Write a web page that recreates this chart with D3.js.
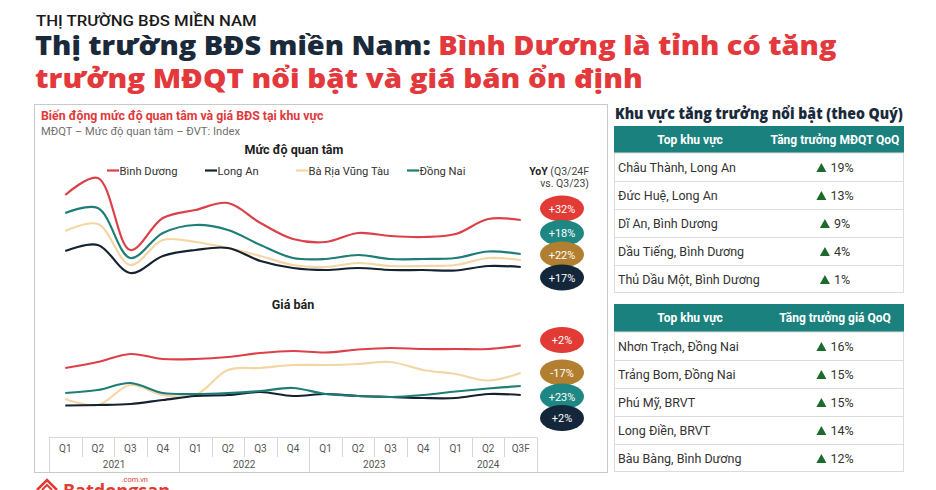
<!DOCTYPE html>
<html><head><meta charset="utf-8">
<script src="https://cdn.jsdelivr.net/npm/d3@7"></script>
<style>
body{margin:0;background:#fff}
svg{display:block}
text{font-family:Roboto,"Noto Sans",sans-serif}
</style>
</head><body>
<svg id="c" width="936" height="490"></svg>
<script>
// ---------------- DATA ----------------
const quarters = ["Q1","Q2","Q3","Q4","Q1","Q2","Q3","Q4","Q1","Q2","Q3","Q4","Q1","Q2","Q3F"];
const yearLabels = ["2021","2022","2023","2024"];
const yearSpans = [4,4,4,3];
const seriesNames = ["Bình Dương","Long An","Bà Rịa Vũng Tàu","Đồng Nai"];

// Mức độ quan tâm (index)
const interestBinhDuong = [95,112,40,72,80,87,67,51,48,57,54,53,56,71,70];
const interestLongAn    = [39,45,17,34,40,42,29,22,20,22,20,20,19.5,24,23];
const interestBRVT      = [59,66,25,50,48,42,34,25,23,27,24,24,25,32,30];
const interestDongNai   = [77,82,32,57,65,60,45,32,31,35,31,31,32,38.5,36];

// Giá bán (index)
const priceBinhDuong = [52,58,66,61,61,63,67,69,67.5,70.5,72,71,71,71,74.5];
const priceLongAn    = [14.5,15,16,20,24,25,28,24,26,24,23,22,22,26,25];
const priceBRVT      = [21,15,35,25,25,50,52,55,55,56,58,50,46,39.5,47];
const priceDongNai   = [27,30,37,27,26,27,29,32,26,24,23,25,28.5,31.5,34];

// YoY labels (series order: Bình Dương, Long An, BRVT, Đồng Nai)
const yoyInterest = ["+32%","+17%","+22%","+18%"];
const yoyPrice    = ["+2%","+2%","-17%","+23%"];

// Tables
const mdqtRegions = ["Châu Thành, Long An","Đức Huệ, Long An","Dĩ An, Bình Dương","Dầu Tiếng, Bình Dương","Thủ Dầu Một, Bình Dương"];
const mdqtGrowth  = ["19%","13%","9%","4%","1%"];
const priceRegions = ["Nhơn Trạch, Đồng Nai","Trảng Bom, Đồng Nai","Phú Mỹ, BRVT","Long Điền, BRVT","Bàu Bàng, Bình Dương"];
const priceGrowth  = ["16%","15%","15%","14%","12%"];

// ---------------- STYLE / LAYOUT ----------------
const lineColors  = ["#dc4048","#15222f","#f4d6a4","#1f7d78"];
const badgeColors = ["#e23b35","#13263a","#b27e2f","#1e8784"];
const NAVY = "#1b2a3b", RED = "#e3393c", TEAL = "#1b817e";

const svg = d3.select("#c");
svg.append("rect").attr("width",936).attr("height",490).attr("fill","#fff");

function fitX(sel, x, y, target){
  const w = sel.node().getComputedTextLength();
  sel.attr("x",0).attr("y",0).attr("transform",`translate(${x},${y}) scale(${target/w},1)`);
}

// ---------- Header ----------
const h0 = svg.append("text").attr("font-family","Roboto").attr("font-weight",500)
  .attr("font-size",15).attr("fill","#1a1a1a").text("THỊ TRƯỜNG BĐS MIỀN NAM");
fitX(h0,36,25.5,221);

const t1 = svg.append("text").attr("font-weight",800).attr("font-size",26).style("font-family","'Open Sans',sans-serif");
t1.append("tspan").attr("fill",NAVY).text("Thị trường BĐS miền Nam: ");
t1.append("tspan").attr("fill",RED).text("Bình Dương là tỉnh có tăng");
fitX(t1,35,55,802);
const t2 = svg.append("text").attr("font-weight",800).attr("font-size",26).style("font-family","'Open Sans',sans-serif")
  .attr("fill",RED).text("trưởng MĐQT nổi bật và giá bán ổn định");
fitX(t2,35,88,608);

// ---------- Left panel ----------
svg.append("rect").attr("x",34.5).attr("y",104.5).attr("width",573).attr("height",368)
  .attr("fill","none").attr("stroke","#c9c9c9");

svg.append("text").attr("x",41).attr("y",120).attr("font-size",12.3).attr("font-weight",700)
  .attr("fill","#e0393c").text("Biến động mức độ quan tâm và giá BĐS tại khu vực");
svg.append("text").attr("x",41).attr("y",134.5).attr("font-size",11.2).attr("fill","#707070")
  .text("MĐQT – Mức độ quan tâm – ĐVT: Index");

const xBand = d3.scaleBand().domain(d3.range(quarters.length)).range([49,537]).padding(0);
const bw = xBand.bandwidth();
const cx = i => xBand(i) + bw/2;
const yTop = d3.scaleLinear().domain([0,120]).range([290,170]);
const yBot = d3.scaleLinear().domain([0,100]).range([420,320]);

svg.append("text").attr("x",294).attr("y",153.5).attr("text-anchor","middle").attr("font-size",12.5)
  .attr("font-weight",700).attr("fill","#222").text("Mức độ quan tâm");
svg.append("text").attr("x",293).attr("y",309).attr("text-anchor","middle").attr("font-size",12.5)
  .attr("font-weight",700).attr("fill","#222").text("Giá bán");

// Legend
const legendX = [107,205,296,407];
seriesNames.forEach((n,i)=>{
  svg.append("line").attr("x1",legendX[i]).attr("x2",legendX[i]+12).attr("y1",170.5).attr("y2",170.5)
    .attr("stroke",lineColors[i]).attr("stroke-width",2.2);
  svg.append("text").attr("x",legendX[i]+12.5).attr("y",174.5).attr("font-size",11.2).attr("fill","#333").text(n);
});

// YoY heading
const yoy = svg.append("text").attr("x",589).attr("y",175).attr("text-anchor","end").attr("font-size",10.5).attr("fill","#444");
yoy.append("tspan").attr("font-weight",700).attr("fill","#222").text("YoY");
yoy.append("tspan").text(" (Q3/24F");
svg.append("text").attr("x",589).attr("y",187).attr("text-anchor","end").attr("font-size",10.5).attr("fill","#444").text("vs. Q3/23)");

// Lines
const lineTop = d3.line().x((d,i)=>cx(i)).y(d=>yTop(d)).curve(d3.curveCatmullRom.alpha(0.5));
const lineBot = d3.line().x((d,i)=>cx(i)).y(d=>yBot(d)).curve(d3.curveCatmullRom.alpha(0.5));
const topSeries = [interestBinhDuong, interestLongAn, interestBRVT, interestDongNai];
const botSeries = [priceBinhDuong, priceLongAn, priceBRVT, priceDongNai];
[2,1,3,0].forEach(i=>{
  svg.append("path").attr("d",lineTop(topSeries[i])).attr("fill","none").attr("stroke",lineColors[i]).attr("stroke-width",2.2);
});
[2,1,3,0].forEach(i=>{
  svg.append("path").attr("d",lineBot(botSeries[i])).attr("fill","none").attr("stroke",lineColors[i]).attr("stroke-width",2.2);
});

// Badges
const badgeX = 562;
const topBadges = [{s:0,y:208.5},{s:3,y:233},{s:2,y:254.5},{s:1,y:277.5}];
const botBadges = [{s:0,y:340},{s:2,y:372.5},{s:3,y:396.5},{s:1,y:418}];
function badges(list, labels){
  list.forEach(b=>{
    svg.append("ellipse").attr("cx",badgeX).attr("cy",b.y).attr("rx",22).attr("ry",13).attr("fill",badgeColors[b.s]);
    svg.append("text").attr("x",badgeX).attr("y",b.y+4).attr("text-anchor","middle").attr("font-size",11)
      .attr("fill","#fff").text(labels[b.s]);
  });
}
badges(topBadges, yoyInterest);
badges(botBadges, yoyPrice);

// Axis
const axisG = svg.append("g").attr("transform","translate(0,445)")
  .call(d3.axisBottom(xBand).tickSize(0).tickPadding(0).tickFormat(i=>quarters[i]));
axisG.select(".domain").remove();
axisG.selectAll("text").attr("font-size",10).attr("fill","#555").attr("font-family","Roboto");
svg.append("line").attr("x1",49).attr("x2",537).attr("y1",437.5).attr("y2",437.5).attr("stroke","#d6d6d6");
const yearBounds = [0];
yearSpans.forEach(s=>yearBounds.push(yearBounds[yearBounds.length-1]+s));
d3.range(quarters.length+1).forEach(k=>{
  const x = Math.round((k<quarters.length? xBand(k) : xBand(quarters.length-1)+bw))+0.5;
  const full = yearBounds.includes(k);
  svg.append("line").attr("x1",x).attr("x2",x).attr("y1",437.5).attr("y2",full?472:457)
    .attr("stroke","#d6d6d6");
});
yearLabels.forEach((y,j)=>{
  const a = yearBounds[j], b = yearBounds[j+1];
  const xm = (xBand(a) + xBand(b-1)+bw)/2;
  svg.append("text").attr("x",xm).attr("y",468).attr("text-anchor","middle").attr("font-size",10)
    .attr("fill","#555").text(y);
});

// ---------- Right tables ----------
const rt = svg.append("text").attr("font-weight",800).attr("font-size",15).style("font-family","'Open Sans',sans-serif")
  .attr("fill",NAVY).text("Khu vực tăng trưởng nổi bật (theo Quý)");
fitX(rt,615,118.5,288);

function table(y0, hh, rh, headers, names, vals){
  const x0 = 614, x1 = 904, c1 = 690, c2 = 835;
  svg.append("rect").attr("x",x0).attr("y",y0).attr("width",x1-x0).attr("height",hh).attr("fill",TEAL);
  svg.append("text").attr("x",c1).attr("y",y0+hh/2+4.2).attr("text-anchor","middle").attr("font-size",12)
    .attr("font-weight",700).attr("fill","#fff").text(headers[0]);
  svg.append("text").attr("x",c2).attr("y",y0+hh/2+4.2).attr("text-anchor","middle").attr("font-size",12)
    .attr("font-weight",700).attr("fill","#fff").text(headers[1]);
  const yb = y0+hh;
  svg.append("rect").attr("x",x0+0.5).attr("y",yb).attr("width",x1-x0-1).attr("height",rh*names.length-0.5)
    .attr("fill","none").attr("stroke","#dcdcdc");
  names.forEach((n,i)=>{
    const ry = yb + rh*i;
    if(i>0) svg.append("line").attr("x1",x0).attr("x2",x1).attr("y1",ry+0.5).attr("y2",ry+0.5).attr("stroke","#dcdcdc");
    svg.append("text").attr("x",618).attr("y",ry+rh/2+4.5).attr("font-size",12.5).attr("fill","#333").text(n);
    const tx = svg.append("text").attr("y",ry+rh/2+5).attr("font-size",12.5).attr("fill","#333").text(vals[i]);
    const tw = tx.node().getComputedTextLength();
    const start = c2 - (tw+14)/2;
    tx.attr("x",start+14);
    const tcx = start+5, tcy = ry+rh/2+0.5;
    svg.append("path").attr("d",`M${tcx-5},${tcy+4.5}L${tcx+5},${tcy+4.5}L${tcx},${tcy-4.5}Z`).attr("fill","#1d6b2c");
  });
}
table(126, 27, 28, ["Top khu vực","Tăng trưởng MĐQT QoQ"], mdqtRegions, mdqtGrowth);
table(304, 28, 28, ["Top khu vực","Tăng trưởng giá QoQ"], priceRegions, priceGrowth);

// ---------- Logo (cut off at bottom in the reference) ----------
svg.append("path").attr("d","M37,490 L47,480 L57,490").attr("fill","none").attr("stroke","#e03c31").attr("stroke-width",2.6);
svg.append("path").attr("d","M42,490 L47,485 L52,490").attr("fill","none").attr("stroke","#e03c31").attr("stroke-width",2);
svg.append("text").attr("x",63).attr("y",497).attr("font-size",18).attr("font-weight",700).attr("fill","#e03c31")
  .style("font-family","'Open Sans',sans-serif").text("Batdongsan");
svg.append("text").attr("x",148).attr("y",481.5).attr("text-anchor","end").attr("font-size",7.5).attr("fill","#e03c31").text(".com.vn");
</script>
</body></html>
